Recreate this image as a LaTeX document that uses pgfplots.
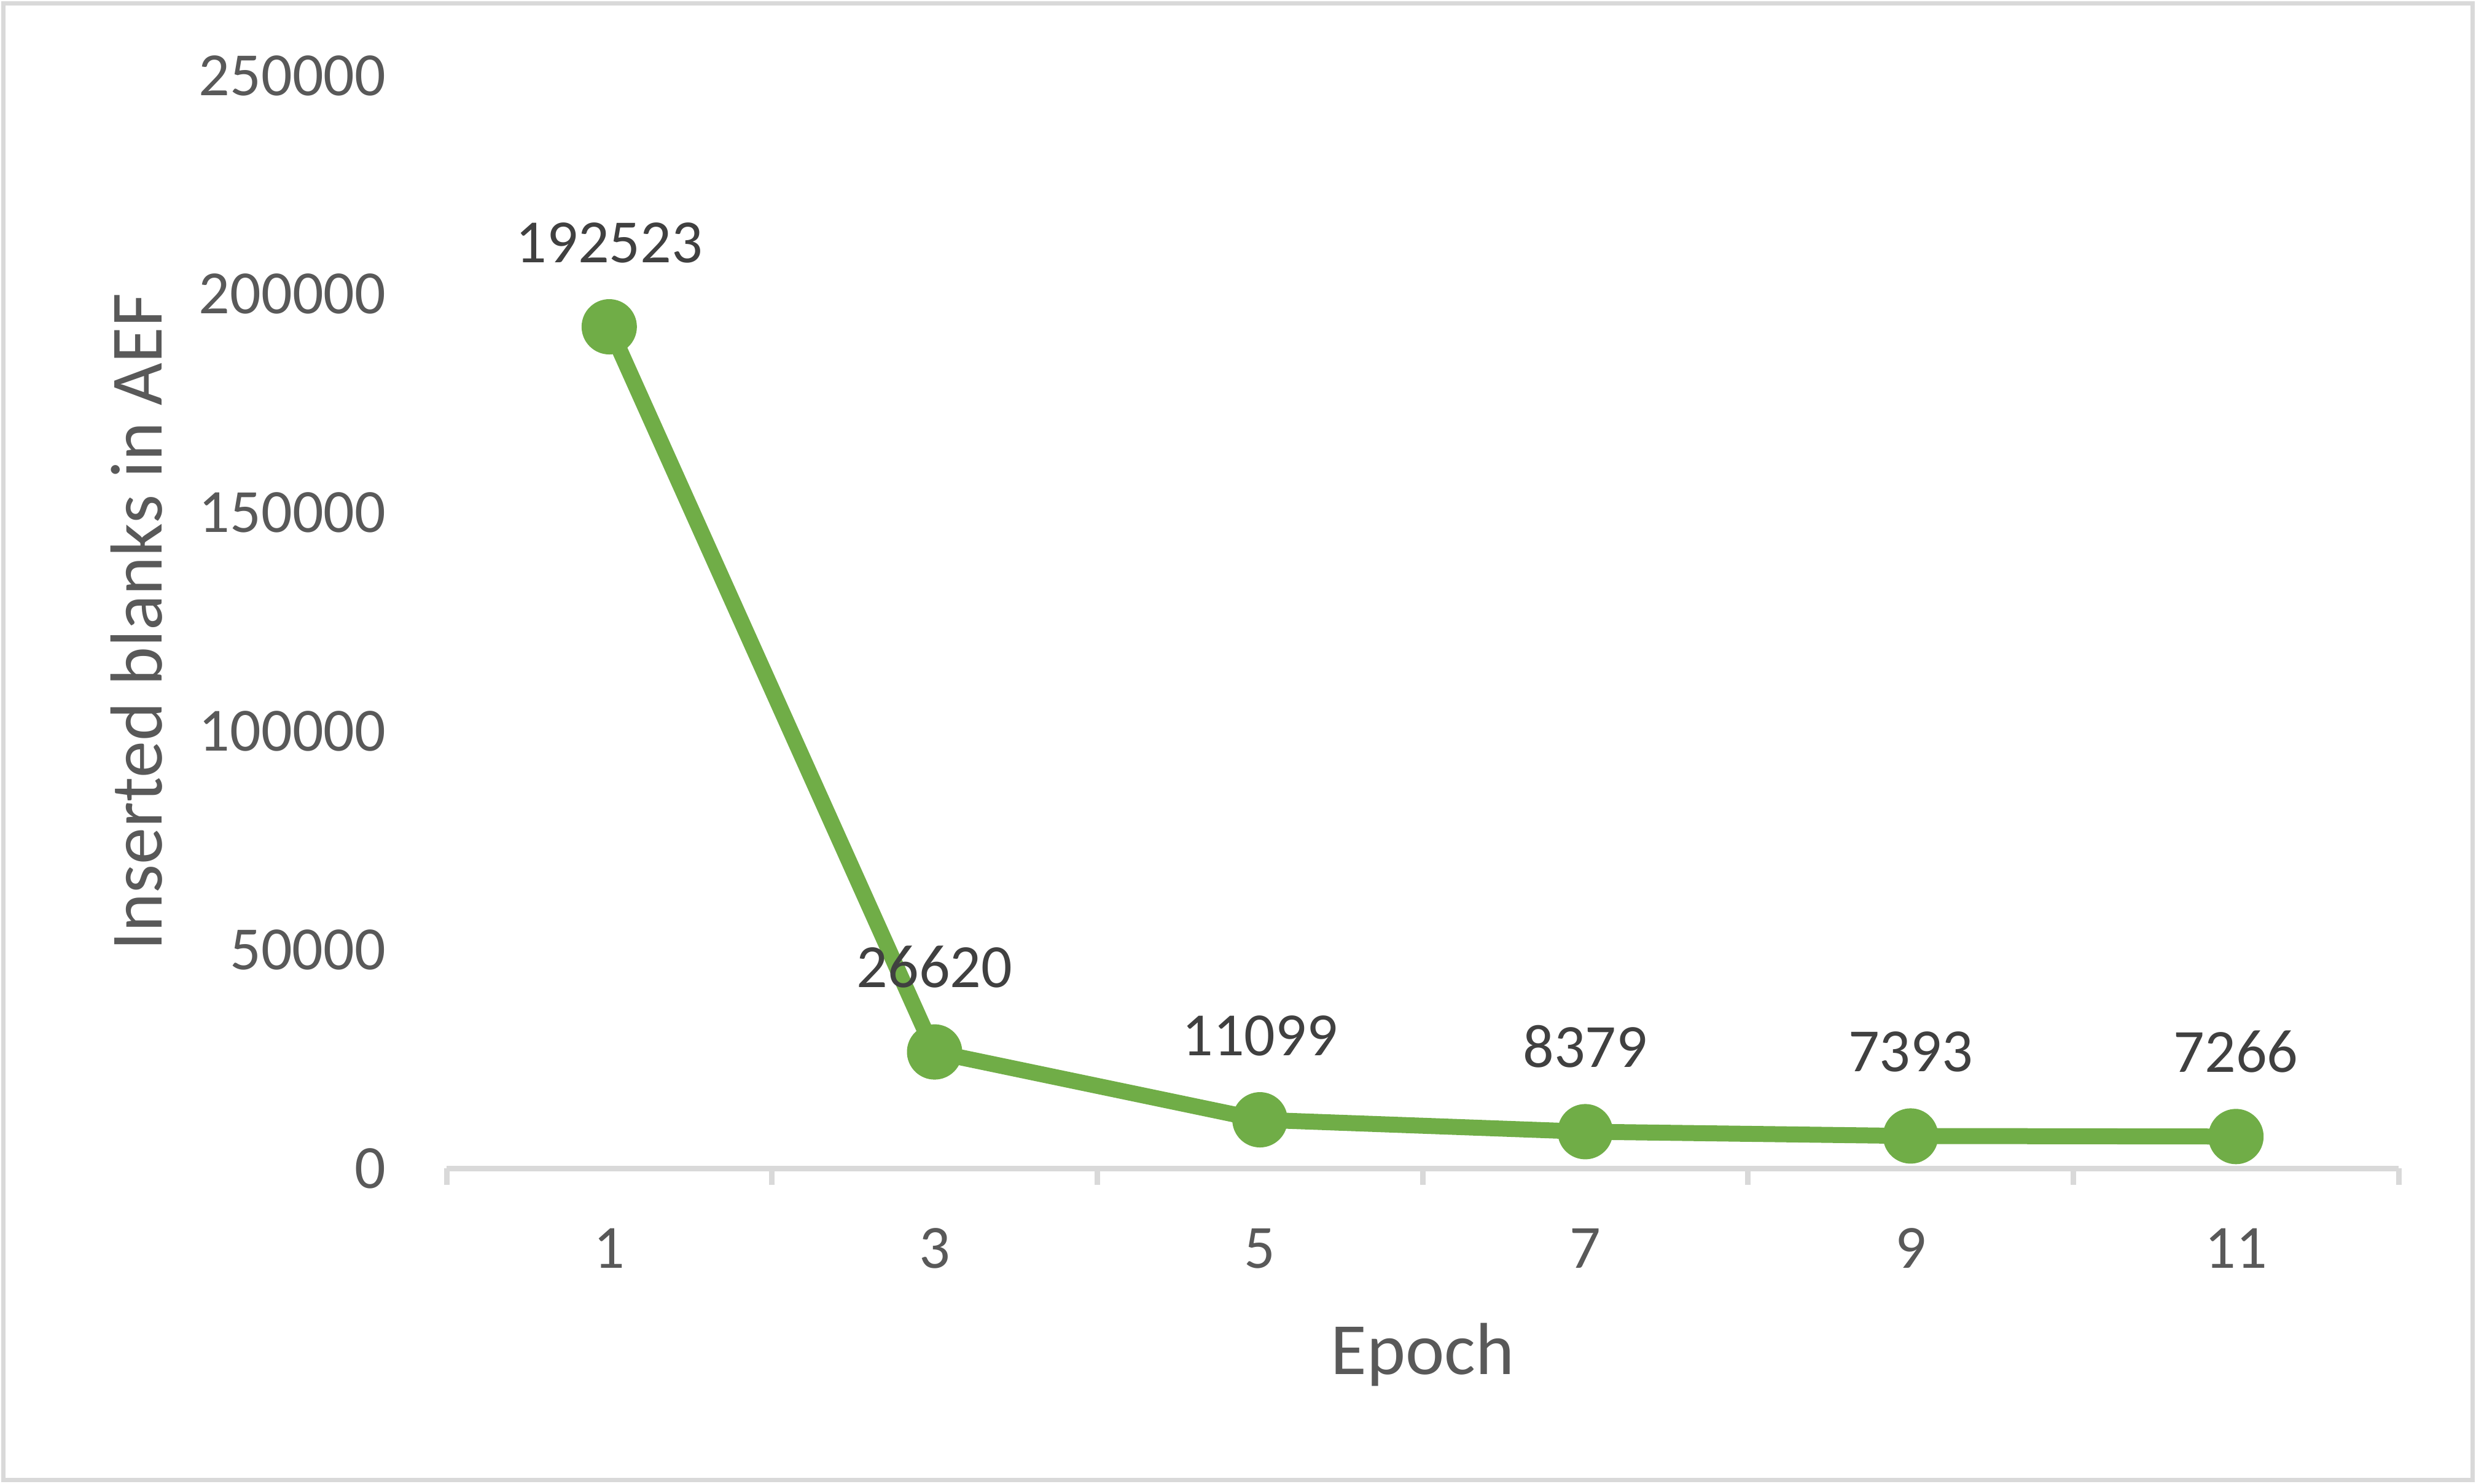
\documentclass[border=0pt]{standalone}
\usepackage{fontspec}
\setmainfont{Carlito}
\usepackage{pgfplots}
\pgfplotsset{compat=1.18}
\definecolor{linegreen}{HTML}{70AD47}
\definecolor{framegray}{HTML}{D9D9D9}
\definecolor{ticktext}{HTML}{595959}
\definecolor{labeltext}{HTML}{404040}

\begin{document}
\begin{tikzpicture}
\useasboundingbox (0,0) rectangle (403.1pt,241.5pt);
\draw[framegray, line width=0.7pt] (0.55pt,0.55pt) rectangle (402.55pt,240.95pt);
\begin{axis}[
  at={(72.7pt,51.3pt)}, anchor=south west,
  scale only axis, width=317.8pt, height=177.9pt,
  xmin=-0.5, xmax=5.5, ymin=0, ymax=250000,
  axis lines*=left,
  x axis line style={-, draw=framegray, line width=0.9pt},
  y axis line style={draw=none},
  scaled y ticks=false,
  xtick={0,...,5}, xticklabels={1,3,5,7,9,11},
  minor xtick={-0.5,0.5,...,5.5},
  ytick={0,50000,100000,150000,200000,250000},
  yticklabels={0,50000,100000,150000,200000,250000},
  tick align=outside,
  major tick length=0pt, minor tick length=2.7pt,
  major tick style={draw=none},
  minor tick style={draw=framegray, line width=0.9pt},
  xticklabel style={anchor=north, inner sep=0pt, yshift=-9.6pt,
    font=\fontsize{10}{12}\selectfont, text=ticktext},
  yticklabel style={anchor=east, inner sep=0pt, xshift=-9.7pt,
    font=\fontsize{10}{12}\selectfont, text=ticktext},
  xlabel={Epoch},
  xlabel style={at={(axis description cs:0.5,-0.1883)}, anchor=base,
    inner sep=0pt, font=\fontsize{12}{14}\selectfont, text=ticktext},
  ylabel={Inserted blanks in AEF},
  ylabel style={at={(axis description cs:-0.146,0.5)}, anchor=base,
    inner sep=0pt, font=\fontsize{12}{14}\selectfont, text=ticktext},
  clip=false,
]
\addplot[linegreen, line width=2.6pt, line join=round,
  mark=*, mark size=3.2pt, mark options={fill=linegreen, draw=none},
  nodes near coords, point meta=explicit symbolic,
  nodes near coords style={anchor=base, inner sep=0pt, yshift=10.5pt,
    font=\fontsize{10}{12}\selectfont, text=labeltext}]
  coordinates {(0,192523)[192523] (1,26620)[26620] (2,11099)[11099]
               (3,8379)[8379] (4,7393)[7393] (5,7266)[7266]};
\end{axis}
\end{tikzpicture}
\end{document}
